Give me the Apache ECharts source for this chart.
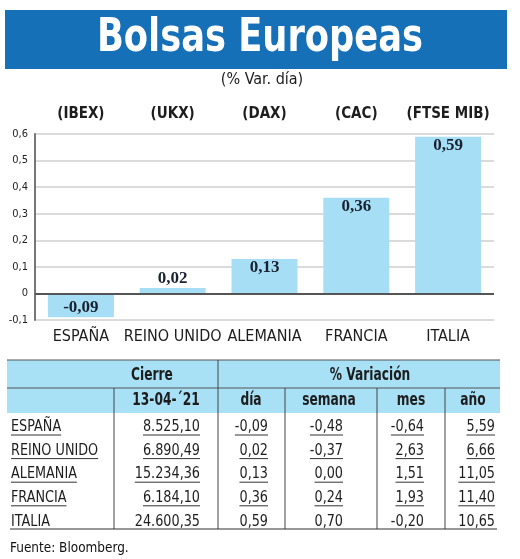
<!DOCTYPE html>
<html>
<head>
<meta charset="utf-8">
<script src="https://cdn.jsdelivr.net/npm/echarts@6/dist/echarts.min.js"></script>
<style>
html,body{margin:0;padding:0;background:#fff;}
#main{width:520px;height:559px;}
</style>
</head>
<body>
<div id="main"></div>
<script>
// ---- data ----
const countries = ['ESPAÑA', 'REINO UNIDO', 'ALEMANIA', 'FRANCIA', 'ITALIA'];
const indices = ['(IBEX)', '(UKX)', '(DAX)', '(CAC)', '(FTSE MIB)'];
const dayChange = [-0.09, 0.02, 0.13, 0.36, 0.59];
const closeValues = [8525.10, 6890.49, 15234.36, 6184.10, 24600.35];
const weekChange = [-0.48, -0.37, 0.00, 0.24, 0.70];
const monthChange = [-0.64, 2.63, 1.51, 1.93, -0.20];
const yearChange = [5.59, 6.66, 11.05, 11.40, 10.65];
const yTicks = { min: -0.1, max: 0.6, step: 0.1 };
const titleText = 'Bolsas Europeas';
const subtitleText = '(% Var. día)';
const closeHeader = 'Cierre';
const closeDate = '13-04-´21';
const varHeader = '% Variación';
const varCols = ['día', 'semana', 'mes', 'año'];
const sourceText = 'Fuente: Bloomberg.';

// ---- styling ----
const SANS = "'Liberation Sans Narrow','DejaVu Sans Condensed','Noto Sans',sans-serif";
const SERIF = "'Liberation Serif','DejaVu Serif',serif";
const BLUE = '#1670b8';
const LIGHT = '#a6dff5';
const HEAD = '#a8e1f6';
const INK = '#1d1d1d';

function fmt(v, dec) {
  const neg = v < 0;
  const s = Math.abs(v).toFixed(dec);
  let [ip, dp] = s.split('.');
  ip = ip.replace(/\B(?=(\d{3})+(?!\d))/g, '.');
  return (neg ? '-' : '') + ip + (dp ? ',' + dp : '');
}

const ctx = document.createElement('canvas').getContext('2d');
function textW(str, font) { ctx.font = font; return ctx.measureText(str).width; }

const chart = echarts.init(document.getElementById('main'), null, { renderer: 'canvas' });

// helper for condensed-looking text (horizontal scale about the anchor)
function txt(str, x, y, font, align, sx, fill) {
  return {
    type: 'text', x: x, y: y, scaleX: sx, originX: 0, originY: 0,
    style: { text: str, fill: fill || INK, font: font, textAlign: align, textVerticalAlign: 'middle' }
  };
}

// ---- table graphics ----
const T = { left: 7, right: 500, top: 360, mid: 388, head: 413, bottom: 529 };
const colX = [114, 218, 285, 377, 445];
const rowY0 = 427, rowH = 23.6;
const bodyFont = '16px ' + SANS;
const bodySX = 0.89;
const rightEdges = [200, 268, 343, 424, 495];

const g = [];
// title bar
const titleFont = 'bold 46px ' + SANS;
g.push({ type: 'rect', shape: { x: 5, y: 10, width: 502, height: 59 }, style: { fill: BLUE } });
g.push(txt(titleText, 260, 39, titleFont, 'center', 326 / textW(titleText, titleFont), '#fff'));
g.push(txt(subtitleText, 262, 80, '16px ' + SANS, 'center', 1));

// table header background
g.push({ type: 'rect', shape: { x: T.left, y: T.top, width: T.right - T.left, height: T.head - T.top }, style: { fill: HEAD } });
g.push({ type: 'line', shape: { x1: T.left, y1: T.top, x2: T.right, y2: T.top }, style: { stroke: '#555', lineWidth: 1.2 } });
g.push({ type: 'line', shape: { x1: T.left, y1: T.mid, x2: T.right, y2: T.mid }, style: { stroke: '#555', lineWidth: 1 } });
g.push({ type: 'line', shape: { x1: colX[1], y1: T.top, x2: colX[1], y2: T.bottom }, style: { stroke: '#444', lineWidth: 1 } });
[colX[0], colX[2], colX[3], colX[4]].forEach(x => {
  g.push({ type: 'line', shape: { x1: x, y1: T.mid, x2: x, y2: T.bottom }, style: { stroke: '#444', lineWidth: 1 } });
});
const hFont = 'bold 17px ' + SANS;
const hSX = 0.8;
g.push(txt(closeHeader, 152, 376, hFont, 'center', hSX));
g.push(txt(varHeader, 370, 376, hFont, 'center', hSX));
g.push(txt(closeDate, 166, 401, hFont, 'center', hSX));
const varCenters = [251, 329, 411, 473];
varCols.forEach((c, i) => g.push(txt(c, varCenters[i], 401, hFont, 'center', hSX)));

// body rows
countries.forEach((name, r) => {
  const cy = rowY0 + r * rowH;
  const uy = cy + 8;
  const cells = [fmt(closeValues[r], 2), fmt(dayChange[r], 2), fmt(weekChange[r], 2), fmt(monthChange[r], 2), fmt(yearChange[r], 2)];
  g.push(txt(name, 11, cy, bodyFont, 'left', bodySX));
  if (r < countries.length - 1) {
    g.push({ type: 'line', shape: { x1: 11, y1: uy, x2: 11 + textW(name, bodyFont) * bodySX, y2: uy }, style: { stroke: '#333', lineWidth: 1 } });
  }
  cells.forEach((t, c) => {
    const rx = rightEdges[c];
    g.push(txt(t, rx, cy, bodyFont, 'right', bodySX));
    if (r < countries.length - 1) {
      g.push({ type: 'line', shape: { x1: rx - textW(t, bodyFont) * bodySX, y1: uy, x2: rx, y2: uy }, style: { stroke: '#333', lineWidth: 1 } });
    }
  });
});
g.push({ type: 'line', shape: { x1: 10, y1: T.bottom, x2: 497, y2: T.bottom }, style: { stroke: '#333', lineWidth: 1.2 } });
g.push(txt(sourceText, 10, 548, '14px ' + SANS, 'left', 0.96, '#111'));

const option = {
  animation: false,
  backgroundColor: '#fff',
  grid: { left: 35, right: 26, top: 134, bottom: 239, containLabel: false },
  xAxis: [
    {
      type: 'category', data: countries, position: 'bottom',
      axisLine: { show: false, onZero: false }, axisTick: { show: false },
      axisLabel: { interval: 0, margin: 9, color: INK, fontSize: 16, fontFamily: SANS }
    },
    {
      type: 'category', data: indices, position: 'top',
      axisLine: { show: false }, axisTick: { show: false },
      axisLabel: { interval: 0, margin: 12, color: INK, fontSize: 15, fontWeight: 'bold', fontFamily: SANS }
    }
  ],
  yAxis: {
    type: 'value', min: yTicks.min, max: yTicks.max, interval: yTicks.step,
    axisLine: { show: true, lineStyle: { color: '#777', width: 2 } },
    axisTick: { show: false },
    axisLabel: { margin: 7, color: INK, fontSize: 11, fontFamily: SANS, formatter: v => fmt(Math.round(v * 10) / 10, Math.round(v * 10) === 0 ? 0 : 1) },
    splitLine: { lineStyle: { color: '#cfcfcf', width: 1.5 } }
  },
  series: [{
    type: 'bar',
    data: dayChange.map(v => ({
      value: v,
      label: v < 0 ? { position: 'inside', offset: [0, 2] } : (v < 0.05 ? { position: 'top', distance: 1 } : { position: 'insideTop', distance: 0 })
    })),
    barWidth: 66,
    itemStyle: { color: LIGHT },
    label: {
      show: true, color: '#1a2130', fontSize: 17, fontWeight: 'bold', fontFamily: SERIF,
      formatter: p => fmt(p.value, 2)
    },
    markLine: {
      silent: true, symbol: 'none', label: { show: false },
      lineStyle: { color: '#555', width: 2, type: 'solid' },
      data: [{ yAxis: 0 }]
    }
  }],
  graphic: g
};
chart.setOption(option);
</script>
</body>
</html>
